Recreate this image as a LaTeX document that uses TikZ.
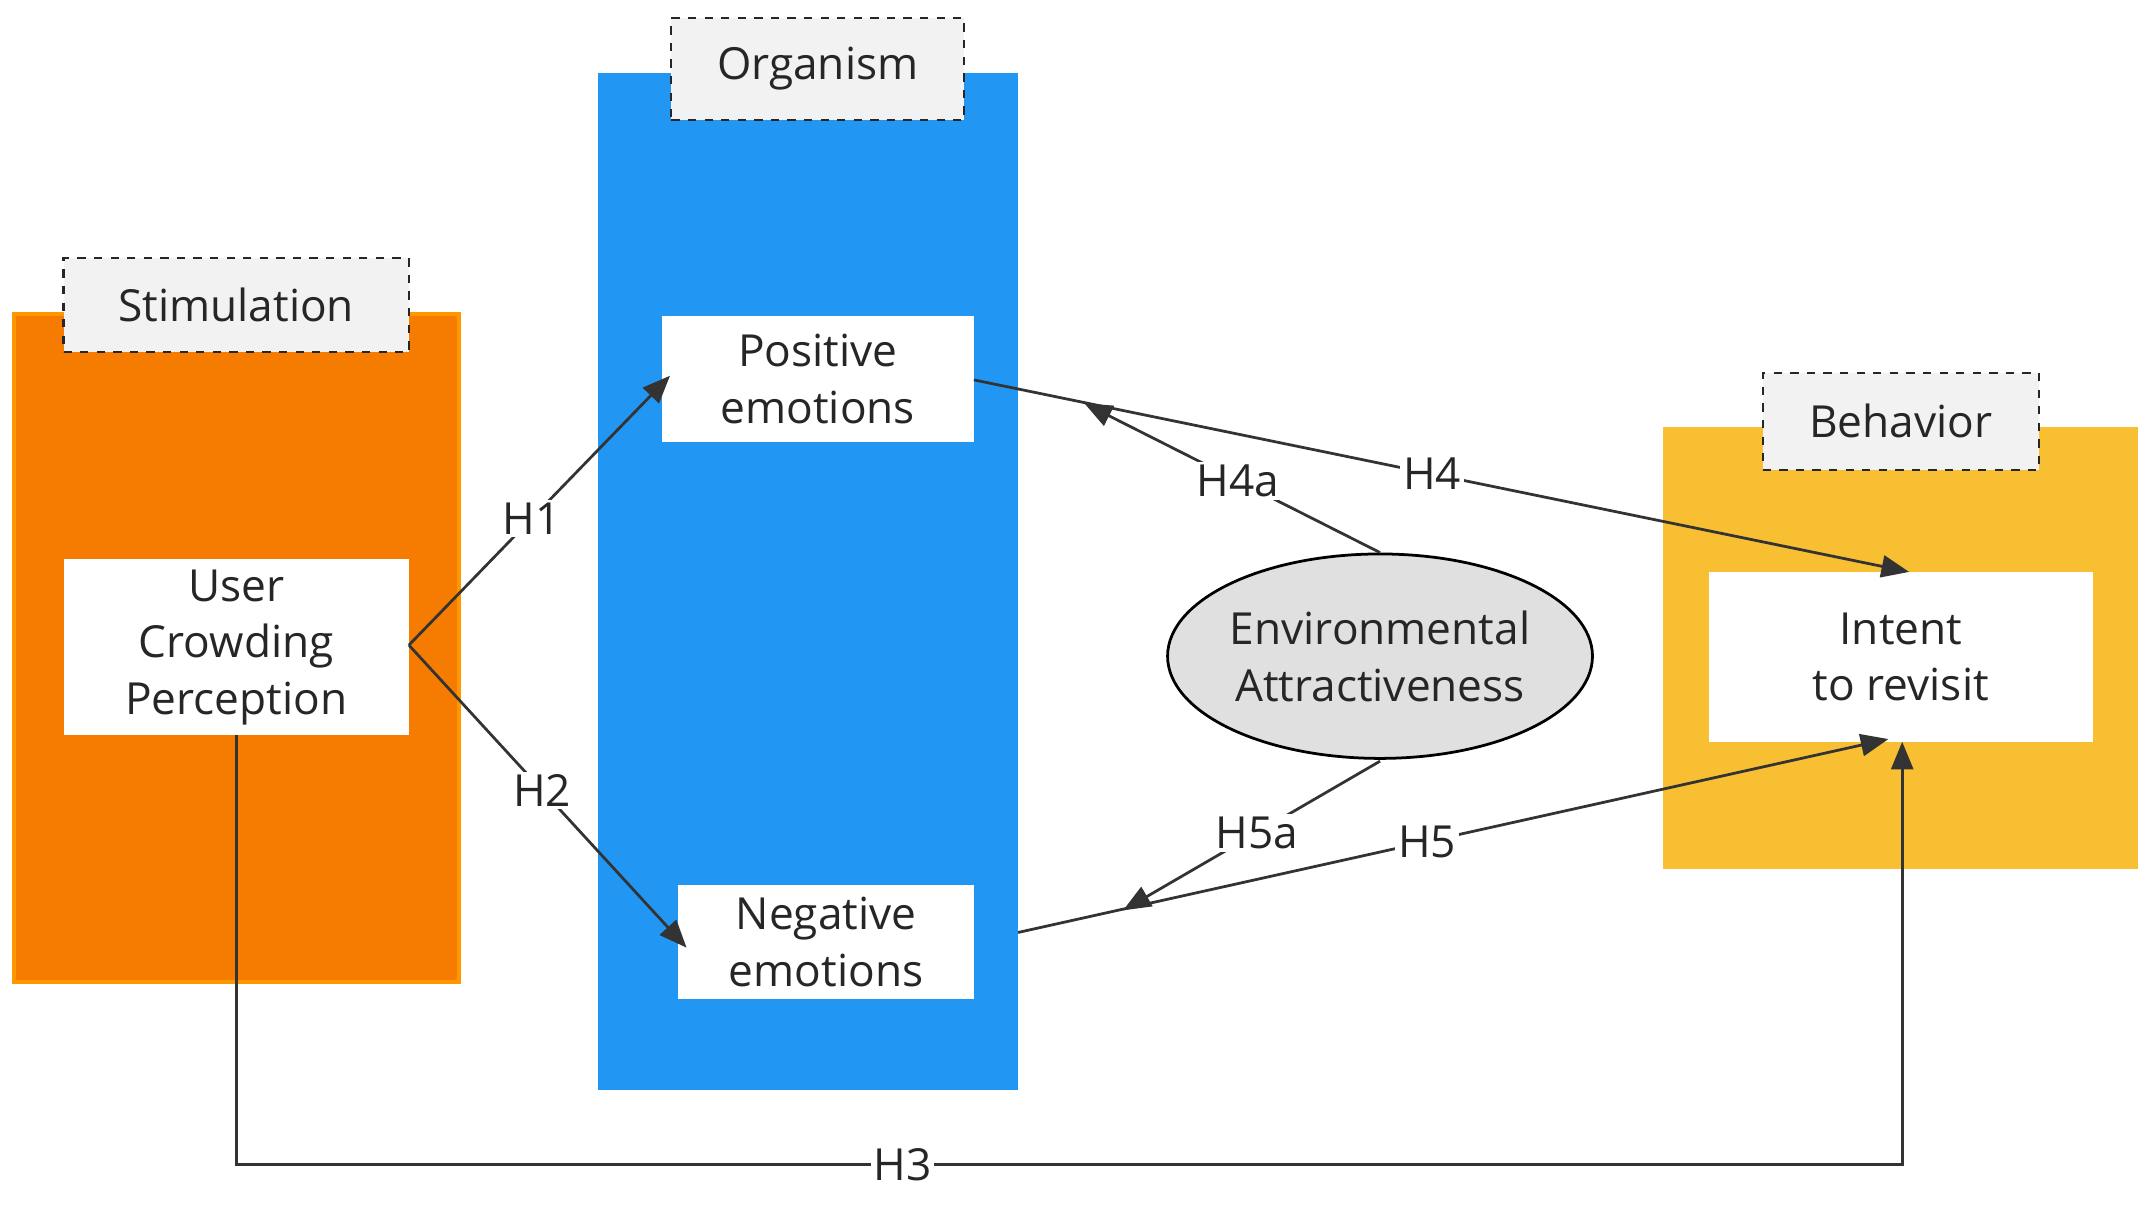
\documentclass[tikz,border=0pt]{standalone}
\usepackage{fontspec}
\setmainfont{Open Sans}
\usetikzlibrary{arrows.meta,shapes.geometric}
\definecolor{org}{HTML}{F57C00}
\definecolor{orgb}{HTML}{FF9800}
\definecolor{blu}{HTML}{2196F3}
\definecolor{yel}{HTML}{F8BF32}
\definecolor{lab}{HTML}{F2F2F2}
\definecolor{ell}{HTML}{E0E0E0}
\definecolor{ln}{HTML}{333333}
\begin{document}
\begin{tikzpicture}[x=0.5pt,y=-0.5pt,
  txt/.style={font=\fontsize{16}{20.5}\selectfont,align=center,text=black!85},
  tag/.style={txt,draw=black!85,dashed,line width=0.8pt,fill=lab},
  wbox/.style={txt,fill=white},
  con/.style={draw=ln,line width=1pt},
  arr/.style={con,-{Triangle[length=10pt,width=8pt]}},
  lbl/.style={txt,fill=white,inner sep=1pt}]
\useasboundingbox (0,0) rectangle (1560,874);
% containers
\fill[org,draw=orgb,line width=1.5pt] (10,227) rectangle (332,711);
\fill[blu] (433,53) rectangle (737,789);
\fill[yel] (1204,309) rectangle (1548,629);
% tags
\node[tag,minimum width=125pt,minimum height=34pt] (stim) at (171,221) {Stimulation};
\node[tag,minimum width=106pt,minimum height=37pt] (orgn) at (592,50) {Organism};
\node[tag,minimum width=100pt,minimum height=35pt] (beh) at (1376,305) {Behavior};
% boxes
\node[wbox,minimum width=125pt,minimum height=63.5pt] (ucp) at (171,468.5) {User\\Crowding\\Perception};
\node[wbox,minimum width=113pt,minimum height=45.5pt] (pos) at (592,274.5) {Positive\\emotions};
\node[wbox,minimum width=107pt,minimum height=41pt] (neg) at (598,682) {Negative\\emotions};
\node[wbox,minimum width=139pt,minimum height=61.5pt] (int) at (1376,475.5) {Intent\\to revisit};
\node[txt,ellipse,draw=black,line width=1pt,fill=ell,minimum width=150pt,minimum height=74pt,inner sep=0pt] (env) at (999,475) {Environmental\\Attractiveness};
% anchors
\coordinate (ucpR) at (296,467);
\coordinate (posT) at (485,272);
\coordinate (negT) at (497,686);
\coordinate (posR) at (705,275);
\coordinate (intT) at (1382,414);
\coordinate (envT) at (999,400);
\coordinate (h4aT) at (785,292);
\coordinate (negR) at (737,675);
\coordinate (intB) at (1367,535);
\coordinate (envB) at (999,551);
\coordinate (h5aT) at (813,659);
\coordinate (ucpB) at (171,532);
\coordinate (intBB) at (1377,537);
% connectors
\draw[arr] (ucpR) -- node[lbl,pos=0.47] {H1} (posT);
\draw[arr] (ucpR) -- node[lbl,pos=0.48] {H2} (negT);
\draw[arr] (posR) -- node[lbl,pos=0.49] {H4} (intT);
\draw[arr] (envT) -- node[lbl,pos=0.48] {H4a} (h4aT);
\draw[arr] (negR) -- node[lbl,pos=0.47] {H5} (intB);
\draw[arr] (envB) -- node[lbl,pos=0.48] {H5a} (h5aT);
\draw[arr] (ucpB) |- node[lbl,pos=0.7] {H3} (1377,843) -- (intBB);
\end{tikzpicture}
\end{document}
